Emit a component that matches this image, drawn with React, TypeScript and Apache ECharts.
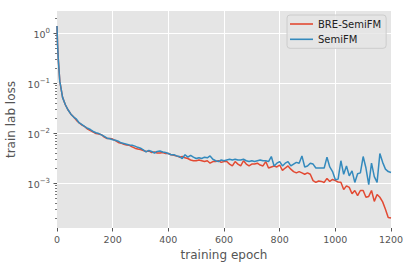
import React, { useEffect, useRef } from "react";
import * as echarts from "echarts";

const epochs = [
  0, 2, 5,
  10, 20, 30, 40, 50, 60, 70, 80, 90, 100,
  110, 120, 130, 140, 150, 160, 170, 180, 190, 200,
  210, 220, 230, 240, 250, 260, 270, 280, 290, 300,
  310, 320, 330, 340, 350, 360, 370, 380, 390, 400,
  410, 420, 430, 440, 450, 460, 470, 480, 490, 500,
  510, 520, 530, 540, 550, 560, 570, 580, 590, 600,
  610, 620, 630, 640, 650, 660, 670, 680, 690, 700,
  710, 720, 730, 740, 750, 760, 770, 780, 790, 800,
  810, 820, 830, 840, 850, 860, 870, 880, 890, 900,
  910, 920, 930, 940, 950, 960, 970, 980, 990, 1000,
  1010, 1020, 1030, 1040, 1050, 1060, 1070, 1080, 1090, 1100,
  1110, 1120, 1130, 1140, 1150, 1160, 1170, 1180, 1190, 1200,
];

const breSemiFM = [
  1.4, 0.6, 0.28,
  0.11, 0.052, 0.037, 0.029, 0.024, 0.021, 0.018, 0.016, 0.0145, 0.0135,
  0.012, 0.0112, 0.0105, 0.0098, 0.0096, 0.0093, 0.0083, 0.0078, 0.0078, 0.0076,
  0.0071, 0.0065, 0.0063, 0.006, 0.0058, 0.0057, 0.0053, 0.005, 0.0048, 0.0047,
  0.0045, 0.0043, 0.0044, 0.0041, 0.0042, 0.004, 0.004, 0.0041, 0.0039, 0.0039,
  0.0037, 0.0036, 0.0035, 0.0033, 0.0034, 0.0032, 0.0031, 0.0029, 0.0028, 0.0028,
  0.0029, 0.0028, 0.0027, 0.0028, 0.0025, 0.0027, 0.0027, 0.0028, 0.0026, 0.0027,
  0.0027, 0.0024, 0.0022, 0.0027, 0.0024, 0.0022, 0.0028, 0.0024, 0.0022, 0.0024,
  0.0024, 0.0025, 0.0023, 0.0022, 0.0027, 0.002, 0.0021, 0.0022, 0.0021, 0.0023,
  0.0018, 0.002, 0.0022, 0.0019, 0.0017, 0.0016, 0.0017, 0.0016, 0.0015, 0.0016,
  0.0015, 0.00112, 0.00103, 0.0011, 0.00108, 0.00103, 0.00124, 0.00108, 0.00118, 0.00112,
  0.00105, 0.00104, 0.00074, 0.00088, 0.00082, 0.00061, 0.00071, 0.00056, 0.00071, 0.00071,
  0.00052, 0.00054, 0.00071, 0.00043, 0.00059, 0.00052, 0.00042, 0.0003, 0.000205, 0.0002,
];

const semiFM = [
  1.4, 0.6, 0.28,
  0.11, 0.052, 0.037, 0.029, 0.024, 0.021, 0.019, 0.016, 0.0148, 0.0135,
  0.0125, 0.0118, 0.0108, 0.0102, 0.0098, 0.0092, 0.0086, 0.0079, 0.0077, 0.0074,
  0.0072, 0.0069, 0.0064, 0.0062, 0.006, 0.0058, 0.0057, 0.0055, 0.0052, 0.005,
  0.0046, 0.0042, 0.0045, 0.0043, 0.004, 0.0043, 0.0044, 0.0042, 0.0041, 0.0039,
  0.0037, 0.0037, 0.0035, 0.0034, 0.0031, 0.0037, 0.0033, 0.0036, 0.0033, 0.0031,
  0.0032, 0.0031, 0.0033, 0.0032, 0.0035, 0.003, 0.0028, 0.0027, 0.0029, 0.0028,
  0.0029, 0.003, 0.0029, 0.003, 0.0029, 0.0029, 0.003, 0.0028, 0.0027, 0.0028,
  0.0027, 0.0028, 0.0029, 0.0028, 0.0028, 0.0027, 0.0034, 0.0022, 0.0025, 0.0027,
  0.0022, 0.0025, 0.0027, 0.0022, 0.0024, 0.0026, 0.0025, 0.0035, 0.0021, 0.0022,
  0.0025, 0.0024, 0.002, 0.002, 0.002, 0.002, 0.0033, 0.0021, 0.0017, 0.00117,
  0.0012, 0.0028, 0.0015, 0.0022, 0.0014, 0.00176, 0.00103, 0.00154, 0.0016, 0.0034,
  0.002, 0.00093, 0.0025, 0.00135, 0.00103, 0.0039, 0.0026, 0.0019, 0.0017, 0.00163,
];

const xTicks = [0, 200, 400, 600, 800, 1000, 1200];
const yMajorTicks = [0.001, 0.01, 0.1, 1];
const yMinorTicks = [
  2e-4, 3e-4, 4e-4, 5e-4, 6e-4, 7e-4, 8e-4, 9e-4,
  2e-3, 3e-3, 4e-3, 5e-3, 6e-3, 7e-3, 8e-3, 9e-3,
  2e-2, 3e-2, 4e-2, 5e-2, 6e-2, 7e-2, 8e-2, 9e-2,
  0.2, 0.3, 0.4, 0.5, 0.6, 0.7, 0.8, 0.9,
  2,
];

const FONT = "DejaVu Sans";
const GRAY = "#555555";

export default function App() {
  const ref = useRef<HTMLDivElement>(null);

  useEffect(() => {
    if (!ref.current) return;
    const chart = echarts.init(ref.current, undefined, { renderer: "svg" });
    const yMin = 1.26e-4;
    const yMax = 2.79;
    const toPairs = (vals: number[]) => epochs.map((e, i) => [e, vals[i]]);

    chart.setOption({
      animation: false,
      backgroundColor: "#ffffff",
      textStyle: { fontFamily: FONT },
      grid: {
        left: 57,
        right: 19,
        top: 11,
        bottom: 41,
        containLabel: false,
        outerBoundsMode: "none",
        show: true,
        backgroundColor: "#E5E5E5",
        borderWidth: 0,
      },
      legend: {
        orient: "vertical",
        left: 287,
        top: 15,
        padding: [3, 5, 3, 3],
        itemWidth: 23,
        itemHeight: 1.6,
        itemGap: 3.3,
        icon: "rect",
        backgroundColor: "rgba(229,229,229,0.8)",
        borderColor: "#cccccc",
        borderWidth: 1,
        borderRadius: 3,
        textStyle: { fontFamily: FONT, fontSize: 10, lineHeight: 12, color: "#222222" },
        data: ["BRE-SemiFM", "SemiFM"],
      },
      xAxis: {
        type: "value",
        min: 0,
        max: 1200,
        interval: 200,
        name: "training epoch",
        nameLocation: "middle",
        nameGap: 20,
        nameTextStyle: { fontFamily: FONT, fontSize: 12, lineHeight: 12, color: GRAY, verticalAlign: "top" },
        axisLine: { show: false },
        axisTick: { show: true, length: 3.5, customValues: xTicks, lineStyle: { color: GRAY, width: 1 } },
        axisLabel: {
          customValues: xTicks,
          fontFamily: FONT,
          fontSize: 9.5,
          color: GRAY,
          margin: 6,
          formatter: (v: number) => String(Math.round(v)),
        },
        splitLine: { show: true, showMinLine: false, showMaxLine: false, lineStyle: { color: "#ffffff", width: 1 } },
      },
      yAxis: [
        {
          type: "log",
          min: yMin,
          max: yMax,
          position: "left",
          name: "train lab loss",
          nameLocation: "middle",
          nameGap: 38,
          nameTextStyle: { fontFamily: FONT, fontSize: 12, color: GRAY },
          axisLine: { show: false },
          axisTick: { show: true, length: 3.5, customValues: yMajorTicks, lineStyle: { color: GRAY, width: 1 } },
          axisLabel: {
            customValues: yMajorTicks,
            margin: 7,
            padding: [2, 0, 0, 0],
            formatter: (v: number) => {
              const e = Math.round(Math.log10(v));
              const s = e < 0 ? "\u2212" + -e : String(e);
              return "{b|10}{s|" + s + "}";
            },
            rich: {
              b: { fontFamily: FONT, fontSize: 9.5, lineHeight: 14, color: GRAY },
              s: { fontFamily: FONT, fontSize: 7, lineHeight: 6.5, color: GRAY, verticalAlign: "top" },
            },
          },
          splitLine: { show: true, lineStyle: { color: "#ffffff", width: 1 } },
        },
        {
          type: "log",
          min: yMin,
          max: yMax,
          position: "left",
          offset: 0,
          axisLine: { show: false },
          axisLabel: { show: false },
          splitLine: { show: false },
          axisTick: { show: true, length: 2, customValues: yMinorTicks, lineStyle: { color: GRAY, width: 0.8 } },
        },
      ],
      series: [
        {
          name: "BRE-SemiFM",
          type: "line",
          yAxisIndex: 0,
          data: toPairs(breSemiFM),
          showSymbol: false,
          symbol: "none",
          color: "#E24A33",
          lineStyle: { color: "#E24A33", width: 1.5 },
          z: 2,
        },
        {
          name: "SemiFM",
          type: "line",
          yAxisIndex: 0,
          data: toPairs(semiFM),
          showSymbol: false,
          symbol: "none",
          color: "#348ABD",
          lineStyle: { color: "#348ABD", width: 1.5 },
          z: 3,
        },
      ],
    });
    return () => chart.dispose();
  }, []);

  return (
    <div
      ref={ref}
      style={{ position: "fixed", left: 0, top: 0, width: 410, height: 269 }}
    />
  );
}
